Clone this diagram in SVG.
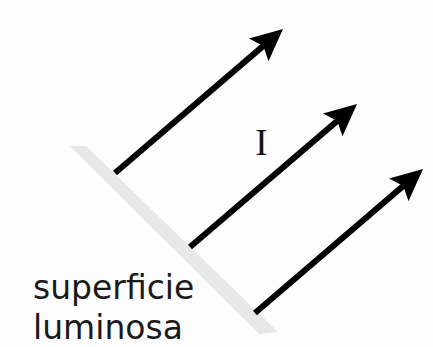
<svg xmlns="http://www.w3.org/2000/svg" width="433" height="347" viewBox="0 0 433 347">
<style>
.ray{stroke:#000;stroke-width:6;fill:none;stroke-linecap:butt;marker-end:url(#head)}
.lbl{font-family:"DejaVu Sans",Verdana,sans-serif;font-size:33px;fill:#1a1a1a}
.sym{font-family:"Liberation Serif","Times New Roman",serif;font-size:37px;fill:#111}
</style>
<defs>
<marker id="head" markerUnits="userSpaceOnUse" viewBox="0 0 32 30" markerWidth="32" markerHeight="30" refX="6" refY="15" orient="auto">
<path d="M0,0 L32,15 L0,30 L6,15 z" fill="#000"/>
</marker>
</defs>
<rect width="433" height="347" fill="#fdfdfd"/>
<g id="surface">
<polygon points="70,146 86,146 278,332 259,334" fill="#e8e8e8"/>
</g>
<g id="rays">
<path class="ray" d="M115,173 L263.3,45.9"/>
<path class="ray" d="M190,247 L337.3,120.9"/>
<path class="ray" d="M255,313 L403.3,185.9"/>
</g>
<g id="label-I">
<text class="sym" x="261.5" y="155" text-anchor="middle">I</text>
</g>
<g id="label-surface">
<text class="lbl" x="33" y="299">superficie</text>
<text class="lbl" x="33" y="339">luminosa</text>
</g>
</svg>
